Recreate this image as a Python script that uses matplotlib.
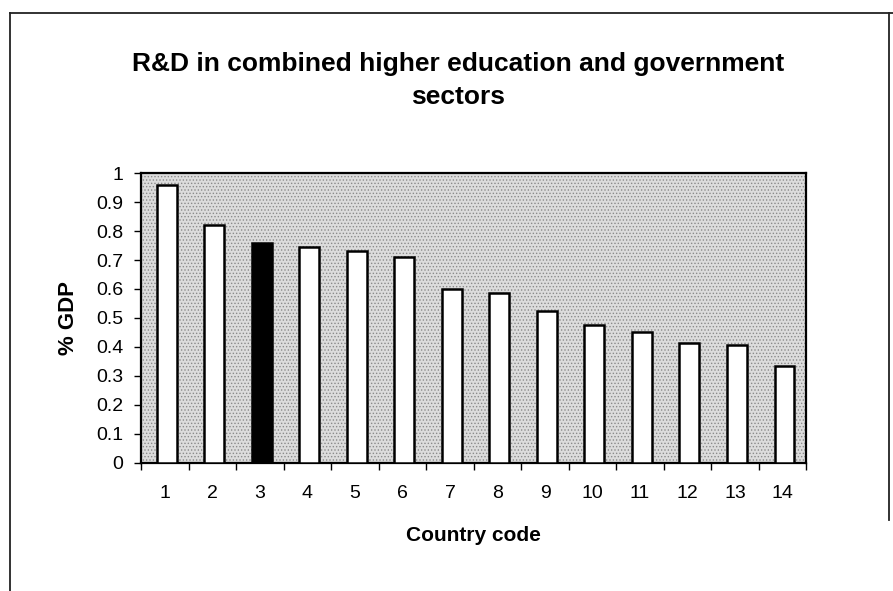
import numpy as np
import matplotlib.pyplot as plt
from matplotlib.patches import Rectangle
from matplotlib.lines import Line2D

# data
countries = [str(i) for i in range(1, 15)]
values = [0.96, 0.82, 0.76, 0.745, 0.73, 0.71, 0.60, 0.585, 0.525, 0.475, 0.45, 0.415, 0.405, 0.335]
highlight = '3'  # country code drawn in black
ytick_labels = ['0', '0.1', '0.2', '0.3', '0.4', '0.5', '0.6', '0.7', '0.8', '0.9', '1']

plt.rcParams['font.family'] = ['Liberation Sans', 'DejaVu Sans']
plt.rcParams['hatch.linewidth'] = 0.6

fig = plt.figure(figsize=(8.93, 5.91), dpi=100)
fig.patch.set_facecolor('white')

# outer chart frame (top, left, right edges)
for xs, ys in [([0.011, 1.0], [0.978, 0.978]),
               ([0.011, 0.011], [0.978, 0.0]),
               ([0.995, 0.995], [0.978, 0.12])]:
    fig.add_artist(Line2D(xs, ys, transform=fig.transFigure, color='#222222', linewidth=1.3))

ax = fig.add_axes([0.158, 0.217, 0.745, 0.49])
ax.set_facecolor('#dcdcdc')
# stippled plot-area fill
ax.add_patch(Rectangle((0, 0), 1, 1, transform=ax.transAxes, facecolor='none',
                       edgecolor='#8a8a8a', hatch='.....', linewidth=0, zorder=1))

x = np.arange(len(countries))
colors = ['black' if c == highlight else 'white' for c in countries]
ax.bar(x + 0.04, values, width=0.42, color=colors, edgecolor='black', linewidth=1.8, zorder=3)

ax.set_xlim(-0.5, len(countries) - 0.5)
ax.set_ylim(0, 1)
ax.set_yticks(np.arange(0, 1.01, 0.1))
ax.set_yticklabels(ytick_labels)
ax.set_xticks(x)
ax.set_xticklabels(countries)
ax.set_xticks(np.arange(-0.5, len(countries), 1), minor=True)
ax.tick_params(axis='x', which='major', length=0, labelsize=14, pad=16)
ax.tick_params(axis='x', which='minor', length=5, width=1, direction='out')
ax.tick_params(axis='y', length=5, width=1, labelsize=14, pad=8)

for s in ax.spines.values():
    s.set_linewidth(1.6)
    s.set_color('black')

ax.set_xlabel('Country code', fontsize=15, fontweight='bold', labelpad=17)
ax.set_ylabel('% GDP', fontsize=16, fontweight='bold', labelpad=12)

fig.text(0.513, 0.864, 'R&D in combined higher education and government\nsectors',
         ha='center', va='center', fontsize=19, fontweight='bold', linespacing=1.45)

fig.savefig('out.png', dpi=100)
